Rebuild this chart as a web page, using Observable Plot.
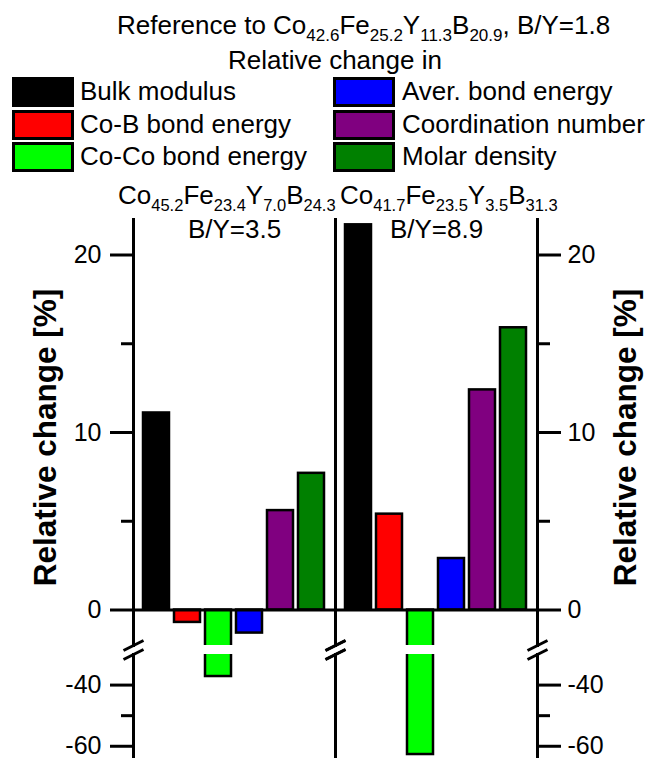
<!DOCTYPE html>
<html><head><meta charset="utf-8">
<script src="https://cdn.jsdelivr.net/npm/d3@7"></script>
<script src="https://cdn.jsdelivr.net/npm/@observablehq/plot@0.6"></script>
<style>
body{margin:0;background:#fff;font-family:'Liberation Sans',Arial,sans-serif;color:#000}
#wrap{position:relative;width:659px;height:758px;overflow:hidden;background:#fff}
#head{position:absolute;left:0;top:0;width:659px;height:212px}
.t{position:absolute;white-space:nowrap;line-height:30px;font-size:26px}
.h{line-height:26px}
.s{font-size:17px;vertical-align:-7px;line-height:0}
.h .s{font-size:16.5px;vertical-align:-7px}
.sw{position:absolute;box-sizing:border-box;width:62px;height:30px;border:3px solid #000}
#upper{position:absolute;left:0;top:212px}
#lower{position:absolute;left:0;top:654px}
</style></head><body>
<div id="wrap"><div id="head"></div><div id="upper"></div><div id="lower"></div></div>
<script>
// ---- data ----
const series = ["Bulk modulus","Co-B bond energy","Co-Co bond energy","Aver. bond energy","Coordination number","Molar density"];
const colors = ["#000000","#ff0000","#00ff00","#0000ff","#800080","#008000"];
const groups = ["B/Y=3.5","B/Y=8.9"];
const values35 = [11.1,-0.7,-37.2,-1.3,5.6,7.7];
const values89 = [21.7,5.4,-62.7,2.9,12.4,15.9];
const majorTicks = [-60,-40,0,10,20];
const minorTicks = [-50,5,15];
const upperDomain = [-2, 22];
const lowerDomain = [-64, -30];
const refFormula = [["Co","42.6"],["Fe","25.2"],["Y","11.3"],["B","20.9"]];
const formula35 = [["Co","45.2"],["Fe","23.4"],["Y","7.0"],["B","24.3"]];
const formula89 = [["Co","41.7"],["Fe","23.5"],["Y","3.5"],["B","31.3"]];
const titleText = "Reference to ";
const titleTail = ", B/Y=1.8";
const subtitle = "Relative change in";
const yLabel = "Relative change [%]";

// ---- table ----
const table = [];
[values35, values89].forEach((vals, g) => vals.forEach((v, i) => table.push({group: groups[g], series: series[i], value: v})));

// ---- header (HTML) ----
const fm = f => f.map(([e, n]) => `${e}<span class="s">${n}</span>`).join("");
let html = "";
html += `<div class="t" style="left:117px;top:10px">${titleText}${fm(refFormula)}${titleTail}</div>`;
html += `<div class="t" style="left:228px;top:45px">${subtitle}</div>`;
const swLeft = [12, 333], txLeft = [80, 402], rowTop = [77, 109.5, 142];
series.forEach((s, i) => {
  const c = Math.floor(i / 3), r = i % 3;
  html += `<div class="sw" style="left:${swLeft[c]}px;top:${rowTop[r]}px;background:${colors[i]}"></div>`;
  html += `<div class="t" style="left:${txLeft[c]}px;top:${rowTop[r] - 1}px">${s}</div>`;
});
html += `<div class="t h" style="left:118px;top:182px">${fm(formula35)}</div>`;
html += `<div class="t h" style="left:340px;top:182px">${fm(formula89)}</div>`;
document.getElementById("head").innerHTML = html;

// ---- charts (broken y axis = two stacked plots) ----
const slash = {draw(ctx) { ctx.moveTo(-10, 5); ctx.lineTo(10, -5); }};
const font = "'Liberation Sans', Arial, sans-serif";
const inDom = (ticks, d) => ticks.filter(t => t >= d[0] && t <= d[1]);
const fmt = d => `${d}`;

function makeChart(domain, opts) {
  const {height, marginTop, breakAt, extra = []} = opts;
  const major = inDom(majorTicks, domain), minor = inDom(minorTicks, domain);
  return Plot.plot({
    width: 659, height,
    marginTop, marginBottom: 0, marginLeft: 133, marginRight: 122,
    style: {fontFamily: font, fontSize: "25px", color: "black", background: "transparent", overflow: "visible"},
    fx: {domain: groups, padding: 0, axis: null},
    x: {domain: series, paddingInner: 0.15, paddingOuter: 0.31, axis: null},
    y: {domain, axis: null},
    color: {domain: series, range: colors},
    marks: [
      Plot.barY(table, {fx: "group", x: "series", y: "value", fill: "series", stroke: "black", strokeWidth: 2.5, clip: true}),
      ...extra,
      Plot.frame({anchor: "left", strokeWidth: 3}),
      Plot.frame({anchor: "right", strokeWidth: 3}),
      Plot.dot([breakAt], {y: d => d, frameAnchor: "left", symbol: slash, fill: "none", stroke: "black", strokeWidth: 3}),
      Plot.dot([breakAt], {y: d => d, frameAnchor: "right", symbol: slash, fill: "none", stroke: "black", strokeWidth: 3}),
      Plot.axisY({anchor: "left", ticks: major, tickFormat: fmt, tickSize: 23, tickPadding: 9, strokeWidth: 3, fontSize: 25, label: null}),
      Plot.axisY({anchor: "left", ticks: minor, tickSize: 12, tickFormat: () => "", strokeWidth: 3, label: null}),
      Plot.axisY({anchor: "right", ticks: major, tickFormat: fmt, tickSize: 23, tickPadding: 7, strokeWidth: 3, fontSize: 25, label: null}),
      Plot.axisY({anchor: "right", ticks: minor, tickSize: 12, tickFormat: () => "", strokeWidth: 3, label: null})
    ]
  });
}

const upper = makeChart(upperDomain, {
  height: 433, marginTop: 7, breakAt: upperDomain[0],
  extra: [
    Plot.ruleY([0], {strokeWidth: 3}),
    Plot.text(groups, {fx: d => d, text: d => d, frameAnchor: "top", dy: 0, fontSize: 26}),
    Plot.text([yLabel], {frameAnchor: "left", facetAnchor: "left", textAnchor: "middle", rotate: -90, dx: -88, dy: 5, fontSize: 31.5, fontWeight: "bold"}),
    Plot.text([yLabel], {frameAnchor: "right", facetAnchor: "right", textAnchor: "middle", rotate: -90, dx: 88, dy: 5, fontSize: 31.5, fontWeight: "bold"})
  ]
});
const lower = makeChart(lowerDomain, {height: 104, marginTop: 0, breakAt: lowerDomain[1]});
document.getElementById("upper").appendChild(upper);
document.getElementById("lower").appendChild(lower);
</script>
</body></html>
